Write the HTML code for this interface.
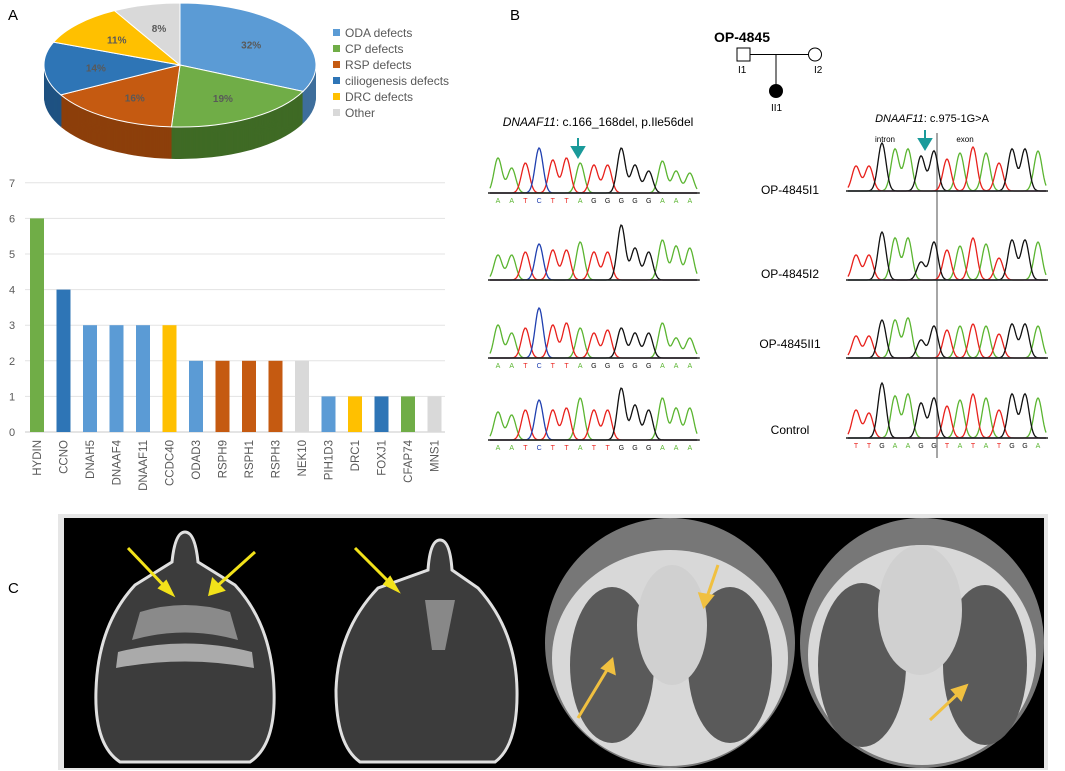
<!DOCTYPE html>
<html><head><meta charset="utf-8"><style>
body{margin:0;background:#fff;font-family:"Liberation Sans",sans-serif;overflow:hidden}
svg{display:block}
</style></head><body>
<svg id="s" width="1065" height="771" viewBox="0 0 1065 771" font-family="Liberation Sans, sans-serif">
<defs>
 <clipPath id="cp"><rect x="64" y="518" width="980" height="250"/></clipPath>
 <clipPath id="c3"><rect x="545" y="518" width="250" height="250"/></clipPath>
 <clipPath id="c4"><rect x="798" y="518" width="246" height="250"/></clipPath>
</defs>
<text x="8" y="20" font-size="15">A</text>
<text x="510" y="20" font-size="15">B</text>
<text x="8" y="593" font-size="15">C</text>
<g id="pie"></g>
<g id="legend"></g>
<g id="bars"></g>
<g id="pb">
 <text x="742" y="42" font-size="14" font-weight="bold" text-anchor="middle">OP-4845</text>
 <rect x="737" y="48" width="13" height="13" fill="#fff" stroke="#000"/>
 <circle cx="815" cy="54.5" r="6.5" fill="#fff" stroke="#000"/>
 <line x1="750" y1="54.5" x2="808" y2="54.5" stroke="#000"/>
 <line x1="776" y1="54.5" x2="776" y2="84" stroke="#000"/>
 <circle cx="776" cy="91" r="7" fill="#000"/>
 <text x="738" y="73" font-size="10">I1</text>
 <text x="814" y="73" font-size="10">I2</text>
 <text x="771" y="111" font-size="10">II1</text>
 <text x="598" y="126" font-size="12" text-anchor="middle"><tspan font-style="italic">DNAAF11</tspan>: c.166_168del, p.Ile56del</text>
 <text x="932" y="122" font-size="11" text-anchor="middle"><tspan font-style="italic">DNAAF11</tspan>: c.975-1G&gt;A</text>
 <text x="885" y="142" font-size="8" text-anchor="middle">intron</text>
 <text x="965" y="142" font-size="8" text-anchor="middle">exon</text>
 <text x="790" y="194" font-size="12" text-anchor="middle">OP-4845I1</text>
 <text x="790" y="278" font-size="12" text-anchor="middle">OP-4845I2</text>
 <text x="790" y="348" font-size="12" text-anchor="middle">OP-4845II1</text>
 <text x="790" y="434" font-size="12" text-anchor="middle">Control</text>
 <line x1="937" y1="133" x2="937" y2="458" stroke="#888" stroke-width="1.5"/>
 <path d="M578 138 V152 M572 147 L578 157 L584 147 Z" stroke="#1a9a9a" fill="#1a9a9a" stroke-width="2"/>
 <path d="M925 130 V144 M919 139 L925 149 L931 139 Z" stroke="#1a9a9a" fill="#1a9a9a" stroke-width="2"/>
</g>
<g id="traces"></g>
<rect x="58" y="514" width="990" height="256" fill="#e6e6e6"/>
<g id="pc" clip-path="url(#cp)">
 <rect x="64" y="518" width="980" height="250" fill="#000"/>
 <path d="M185 532 Q195 532 198 562 L235 585 Q272 625 274 690 Q276 745 250 762 L120 762 Q94 745 96 690 Q98 625 135 585 L172 562 Q175 532 185 532 Z" fill="#3c3c3c" stroke="#e0e0e0" stroke-width="3"/>
 <path d="M140 612 Q185 598 230 612 L238 640 Q185 625 132 640 Z" fill="#8a8a8a"/>
 <path d="M118 652 Q185 635 252 652 L254 668 Q185 655 116 668 Z" fill="#aaa"/>
 <path d="M440 540 Q450 540 452 570 L478 588 Q516 630 517 690 Q518 745 495 762 L360 762 Q336 745 336 690 Q338 630 378 588 L428 570 Q430 540 440 540 Z" fill="#3c3c3c" stroke="#e0e0e0" stroke-width="3"/>
 <path d="M425 600 L455 600 L445 650 L432 650 Z" fill="#888"/>
 <g clip-path="url(#c3)">
  <ellipse cx="670" cy="643" rx="125" ry="125" fill="#777"/>
  <ellipse cx="670" cy="658" rx="118" ry="108" fill="#d8d8d8"/>
  <ellipse cx="612" cy="665" rx="42" ry="78" fill="#5a5a5a"/>
  <ellipse cx="730" cy="665" rx="42" ry="78" fill="#5a5a5a"/>
  <ellipse cx="672" cy="625" rx="35" ry="60" fill="#d0d0d0"/>
 </g>
 <g clip-path="url(#c4)">
  <ellipse cx="922" cy="643" rx="122" ry="125" fill="#777"/>
  <ellipse cx="922" cy="655" rx="114" ry="110" fill="#d8d8d8"/>
  <ellipse cx="862" cy="665" rx="44" ry="82" fill="#5a5a5a"/>
  <ellipse cx="985" cy="665" rx="42" ry="80" fill="#5a5a5a"/>
  <ellipse cx="920" cy="610" rx="42" ry="65" fill="#d0d0d0"/>
 </g>
 <g stroke="#f2e21a" stroke-width="3" fill="#f2e21a">
  <path d="M128 548 L168 590 M160 588 L172 594 L166 582 Z"/>
  <path d="M255 552 L215 588 M213 580 L210 594 L223 590 Z"/>
  <path d="M355 548 L392 585 M385 584 L397 590 L390 578 Z"/>
 </g>
 <g stroke="#f0c040" stroke-width="3" fill="#f0c040">
  <path d="M578 718 L610 665 M603 668 L612 660 L614 673 Z"/>
  <path d="M718 565 L706 600 M700 594 L704 606 L712 596 Z"/>
  <path d="M930 720 L962 690 M953 690 L966 686 L961 699 Z"/>
 </g>
</g>
<script>
const NS='http://www.w3.org/2000/svg';
function el(t,a,p){const e=document.createElementNS(NS,t);for(const k in a)e.setAttribute(k,a[k]);(p||document.getElementById('s')).appendChild(e);return e;}
// ---- Pie data
const pieLabels=['ODA defects','CP defects','RSP defects','ciliogenesis defects','DRC defects','Other'];
const pieValues=[32,19,16,14,11,8];
const pieColors=['#5b9bd5','#70ad47','#c55a11','#2e75b6','#ffc000','#d9d9d9'];
const pieDark=['#3f6f9c','#3f6a25','#8c3f0b','#1f5282','#b38600','#9a9a9a'];
const pg=document.getElementById('pie');
const cx=180,cy=65,rx=136,ry=62,depth=32;
function slicePath(a0,a1,oy){const p=a=>[cx+rx*Math.cos(a),cy+oy+ry*Math.sin(a)];const s=p(a0),e=p(a1);const big=(a1-a0)>Math.PI?1:0;return `M${cx},${cy+oy} L${s[0]},${s[1]} A${rx},${ry} 0 ${big} 1 ${e[0]},${e[1]} Z`;}
const tot=pieValues.reduce((a,b)=>a+b,0);
for(let d=depth;d>=1;d--){let a=-Math.PI/2;pieValues.forEach((v,i)=>{const b=a+v/tot*2*Math.PI;el('path',{d:slicePath(a,b,d),fill:pieDark[i]},pg);a=b;});}
let a=-Math.PI/2;
pieValues.forEach((v,i)=>{const b=a+v/tot*2*Math.PI;
 const sl=el('path',{d:slicePath(a,b,0),fill:pieColors[i],stroke:'#fff','stroke-width':1},pg);
 
 
 const m=(a+b)/2;const t=el('text',{x:cx+rx*0.62*Math.cos(m),y:cy+ry*0.62*Math.sin(m)+4,'font-size':10,'font-weight':'bold','text-anchor':'middle',fill:'#595959'},pg);t.textContent=v+'%';
 
 
 a=b;});
const lg=document.getElementById('legend');
pieLabels.forEach((l,i)=>{const y=33+i*16;
 el('rect',{x:333,y:y-4,width:7,height:7,fill:pieColors[i]},lg);
 const t=el('text',{x:345,y:y+4,'font-size':12,fill:'#595959'},lg);t.textContent=l;
 
 });
// ---- Bar data
const genes=['HYDIN','CCNO','DNAH5','DNAAF4','DNAAF11','CCDC40','ODAD3','RSPH9','RSPH1','RSPH3','NEK10','PIH1D3','DRC1','FOXJ1','CFAP74','MNS1'];
const counts=[6,4,3,3,3,3,2,2,2,2,2,1,1,1,1,1];
const groups=[1,3,0,0,0,4,0,2,2,2,5,0,4,3,1,5];
const yTicks=[0,1,2,3,4,5,6,7];
const bg=document.getElementById('bars');
const y0=432,yScale=v=>y0-v*35.6,xScale=i=>37+i*26.5;
yTicks.forEach(t=>{el('line',{x1:25,x2:445,y1:yScale(t),y2:yScale(t),stroke:t?'#e3e3e3':'#c8c8c8'},bg);
 const tx=el('text',{x:12,y:yScale(t)+4,'font-size':11,fill:'#595959','text-anchor':'middle'},bg);tx.textContent=t;
 
 });
genes.forEach((g,i)=>{const x=xScale(i);
 const r=el('rect',{x:x-7,y:yScale(counts[i]),width:14,height:y0-yScale(counts[i]),fill:pieColors[groups[i]]},bg);
 
 
 const t=el('text',{x:x+4,y:440,'font-size':11.5,fill:'#595959','text-anchor':'end',transform:`rotate(-90 ${x+4} 440)`},bg);t.textContent=g;
 
 });
// ---- Chromatograms (illustrative)
const tg=document.getElementById('traces');
const bc={A:'#5bb531',T:'#e8211c',C:'#2040b0',G:'#111'};
function trace(x0,sp,base,seq,h,letters){
 for(const c of 'ATCG'){let d='';for(let x=x0-8;x<=x0+sp*(seq.length-1)+8;x+=1){let y=0;seq.split('').forEach((s,k)=>{if(s===c){const dx=x-(x0+k*sp);y+=h[k]*Math.exp(-dx*dx/(2*4*4));}});d+=(d?'L':'M')+x+','+(base-y).toFixed(1);}
  el('path',{d:d,fill:'none',stroke:bc[c],'stroke-width':1.3},tg);}
 el('line',{x1:x0-10,x2:x0+sp*(seq.length-1)+10,y1:base,y2:base,stroke:'#222','stroke-width':1.5},tg);
 if(letters)letters.split('').forEach((s,k)=>{const t=el('text',{x:x0+k*sp,y:base+10,'font-size':7,'text-anchor':'middle',fill:bc[s]||'#555'},tg);t.textContent=s;});
}
trace(498,13.7,193,'AATCTTATTGGGAAA',[35,25,30,45,33,35,30,28,28,45,28,22,32,22,20],'AATCTTAGGGGGAAA');
trace(498,13.7,280,'AATCTTATTGGGAAA',[25,25,28,36,30,30,38,28,28,55,32,28,40,34,32],null);
trace(498,13.7,358,'AATCTTATTGGGAAA',[33,25,30,50,33,35,30,25,28,30,25,25,35,20,20],'AATCTTAGGGGGAAA');
trace(498,13.7,440,'AATCTTATTGGGAAA',[28,25,30,40,30,32,42,30,30,52,35,30,42,32,32],'AATCTTATTGGGAAA');
trace(856,13,191,'TTGAAGGTATATGGA',[25,25,48,42,42,35,40,32,38,44,38,28,42,42,40],null);
trace(856,13,280,'TTGAAGGTATATGGA',[25,25,48,42,42,18,38,30,34,42,36,22,40,40,38],null);
trace(856,13,358,'TTGAAGGTATATGGA',[22,22,38,38,40,18,32,28,32,34,32,24,34,34,32],null);
trace(856,13,438,'TTGAAGGTATATGGA',[28,25,55,42,44,35,40,32,38,44,40,28,44,44,40],'TTGAAGGTATATGGA');
</script>
</svg>
</body></html>
